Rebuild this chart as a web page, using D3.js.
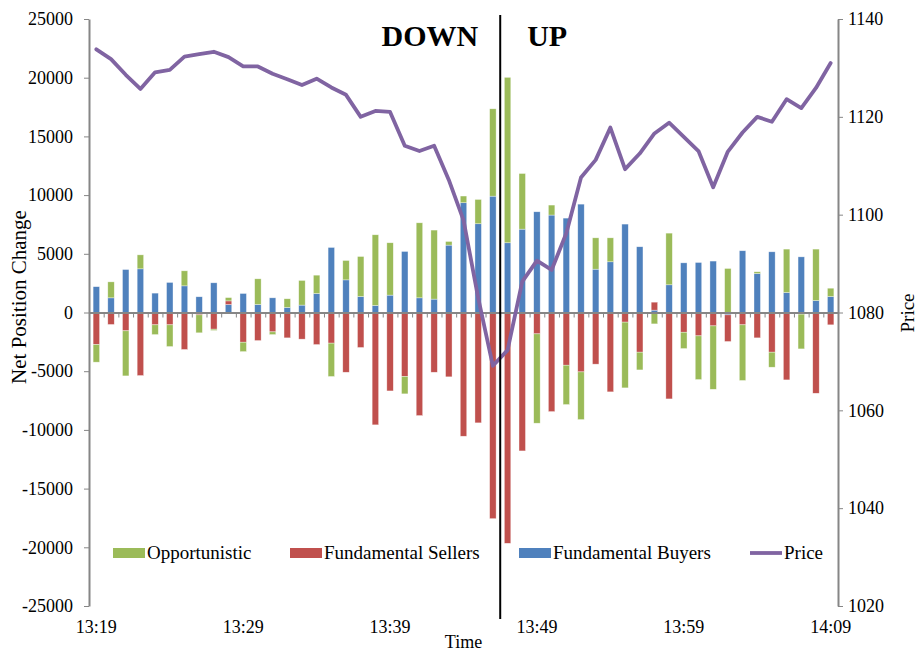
<!DOCTYPE html>
<html>
<head>
<meta charset="utf-8">
<script src="https://cdn.jsdelivr.net/npm/d3@7"></script>
<style>
  body { margin: 0; background: #fff; }
  svg text { font-family: "Liberation Serif", "Times New Roman", serif; fill: #000; }
  .axis path, .axis line { stroke: #868686; }
  .axis text { font-size: 18px; }
</style>
</head>
<body>
<svg id="chart"></svg>
<script>
// minute-by-minute categories 13:19 .. 14:09
const times = d3.range(0, 51).map((i) => {
  const m = 19 + i;
  return (13 + Math.floor(m / 60)) + ':' + String(m % 60).padStart(2, '0');
});
const timeLabels = ['13:19', '13:29', '13:39', '13:49', '13:59', '14:09'];

const buyers = [2200, 1250, 3660, 3720, 1650, 2560, 2270, 1340, 2530, 680,
  1620, 680, 1250, 430, 630, 1620, 5540, 2780, 1360, 600,
  1480, 5200, 1250, 1140, 5740, 9350, 7560, 9910, 5940, 7100,
  8580, 8300, 8040, 9230, 3690, 4320, 7530, 5600, 200, 2360,
  4230, 4260, 4380, -200, 5260, 3320, 5170, 1700, 4740, 1020, 1360];
const sellers = [-2730, -1020, -1560, -5370, -1050, -1050, -3150, -200, -1420, 310,
  -2530, -2390, -1650, -2160, -2270, -2730, -2610, -5090, -2980, -9570,
  -6680, -5450, -8780, -5090, -5480, -10540, -9400, -17560, -19660, -11790,
  -1820, -8440, -4490, -5060, -4400, -6760, -820, -3380, 680, -7360,
  -1680, -1990, -1140, -2270, -1050, -2160, -3380, -5740, -140, -6880, -1050];
const opportunistic = [-1500, 1360, -3840, 1190, -830, -1850, 1280, -1530, -110, 280,
  -800, 2190, -230, 740, 2100, 1560, -2840, 1650, 3410, 6020,
  4460, -1480, 6390, 5880, 310, 570, 2070, 7440, 14090, 4740,
  -7610, 850, -3350, -4060, 2670, 2040, -5600, -1510, -970, 4400,
  -1390, -3720, -5400, 3750, -4740, 150, -1280, 3700, -2960, 4380, 710];
const price = [1133.8, 1131.8, 1128.6, 1125.7, 1129.1, 1129.6, 1132.3, 1132.8, 1133.3, 1132.2,
  1130.3, 1130.3, 1128.8, 1127.7, 1126.5, 1127.8, 1126.0, 1124.5, 1120.0, 1121.2,
  1121.0, 1114.1, 1113.0, 1114.1, 1107.1, 1098.9, 1083.0, 1069.1, 1072.3, 1086.3,
  1090.6, 1088.7, 1096.2, 1107.6, 1111.2, 1117.8, 1109.3, 1112.5, 1116.6, 1118.8,
  1115.9, 1113.0, 1105.6, 1112.9, 1116.8, 1120.0, 1119.0, 1123.6, 1121.8, 1125.9, 1131.0];

const leftTicks = d3.range(-25000, 25001, 5000);
const rightTicks = d3.range(1020, 1141, 20);
const splitAfter = '13:46'; // DOWN | UP divider sits after this minute

const series = [
  {key: 'buyers', name: 'Fundamental Buyers', color: '#4F81BD'},
  {key: 'sellers', name: 'Fundamental Sellers', color: '#C0504D'},
  {key: 'opp', name: 'Opportunistic', color: '#9BBB59'}
];

const W = 918, H = 651;
const plot = {left: 89, right: 838, top: 19, bottom: 606};

const svg = d3.select('#chart').attr('width', W).attr('height', H);

const table = times.map((t, i) => ({
  time: t, buyers: buyers[i], sellers: sellers[i], opp: opportunistic[i]
}));
const stacked = d3.stack().keys(series.map((s) => s.key))
  .offset(d3.stackOffsetDiverging)(table);

// scales
const x = d3.scaleBand().domain(times).range([plot.left, plot.right])
  .paddingInner(0.56).paddingOuter(0.28);
const xEdge = d3.scaleLinear().domain([0, times.length]).range([plot.left, plot.right]);
const y = d3.scaleLinear().domain([-25000, 25000]).range([plot.bottom, plot.top]);
const yP = d3.scaleLinear().domain([1020, 1140]).range([plot.bottom, plot.top]);

const plain = (v) => String(v); // excel style: no thousands sep, hyphen minus

// left axis
svg.append('g').attr('class', 'axis').attr('transform', `translate(${plot.left},0)`)
  .call(d3.axisLeft(y).tickValues(leftTicks).tickFormat(plain)
    .tickSize(5).tickPadding(11).tickSizeOuter(0))
  .call((g) => g.select('.domain').attr('stroke-width', 2));

// right axis
svg.append('g').attr('class', 'axis').attr('transform', `translate(${plot.right},0)`)
  .call(d3.axisRight(yP).tickValues(rightTicks).tickFormat(plain)
    .tickSize(5).tickPadding(5).tickSizeOuter(0))
  .call((g) => g.select('.domain').attr('stroke-width', 2));

// bars
const layers = svg.append('g').selectAll('g').data(stacked).enter().append('g')
  .attr('fill', (d, i) => series[i].color);
layers.selectAll('rect').data((d) => d).enter().append('rect')
  .attr('x', (d) => x(d.data.time))
  .attr('width', x.bandwidth())
  .attr('y', (d) => y(Math.max(d[0], d[1])))
  .attr('height', (d) => Math.abs(y(d[0]) - y(d[1])))
  .attr('stroke', 'rgba(255,255,255,0.6)').attr('stroke-width', 0.6);

// category axis through zero, ticks between categories
svg.append('g').attr('class', 'axis').attr('transform', `translate(0,${y(0)})`)
  .call(d3.axisBottom(xEdge).tickValues(d3.range(0, times.length + 1)).tickSize(5)
    .tickFormat('').tickSizeOuter(0))
  .call((g) => g.select('.domain').attr('stroke-width', 2));

// time labels along bottom
svg.append('g').attr('class', 'axis').attr('transform', `translate(0,${plot.bottom})`)
  .call(d3.axisBottom(x).tickValues(timeLabels).tickSize(0).tickPadding(14))
  .call((g) => g.select('.domain').remove());

// price line
const line = d3.line().x((d, i) => x(times[i]) + x.bandwidth() / 2).y((d) => yP(d));
svg.append('path').datum(price)
  .attr('fill', 'none').attr('stroke', '#8064A2').attr('stroke-width', 3.8)
  .attr('stroke-linejoin', 'round').attr('stroke-linecap', 'round')
  .attr('d', line);

// DOWN / UP divider
const splitX = x(splitAfter) + x.bandwidth() / 2 + x.step() / 2;
svg.append('line').attr('x1', splitX).attr('x2', splitX).attr('y1', 15).attr('y2', 619)
  .attr('stroke', '#000').attr('stroke-width', 2);
svg.append('text').attr('x', splitX - 22).attr('y', 46).attr('text-anchor', 'end')
  .attr('font-size', 30).attr('font-weight', 'bold').text('DOWN');
svg.append('text').attr('x', splitX + 27).attr('y', 46)
  .attr('font-size', 30).attr('font-weight', 'bold').text('UP');

// axis titles
svg.append('text').attr('text-anchor', 'middle')
  .attr('transform', 'translate(26,297)rotate(-90)')
  .attr('font-size', 21).text('Net Position Change');
svg.append('text').attr('text-anchor', 'middle')
  .attr('transform', 'translate(914,313)rotate(-90)')
  .attr('font-size', 19).text('Price');
svg.append('text').attr('text-anchor', 'middle').attr('x', (plot.left + plot.right) / 2).attr('y', 648)
  .attr('font-size', 18).text('Time');

// legend
const legendItems = [
  {name: 'Opportunistic', color: '#9BBB59', x: 113, type: 'rect'},
  {name: 'Fundamental Sellers', color: '#C0504D', x: 290, type: 'rect'},
  {name: 'Fundamental Buyers', color: '#4F81BD', x: 519, type: 'rect'},
  {name: 'Price', color: '#8064A2', x: 750, type: 'line'}
];
const legend = svg.append('g').selectAll('g').data(legendItems).enter().append('g')
  .attr('transform', (d) => `translate(${d.x},553)`);
legend.filter((d) => d.type == 'rect').append('rect')
  .attr('x', 0).attr('y', -5).attr('width', 32).attr('height', 10).attr('fill', (d) => d.color);
legend.filter((d) => d.type == 'line').append('line')
  .attr('x1', 0).attr('x2', 32).attr('y1', 0).attr('y2', 0)
  .attr('stroke', (d) => d.color).attr('stroke-width', 3.8);
legend.append('text').attr('x', 34).attr('y', 6).attr('font-size', 19).text((d) => d.name);
</script>
</body>
</html>
